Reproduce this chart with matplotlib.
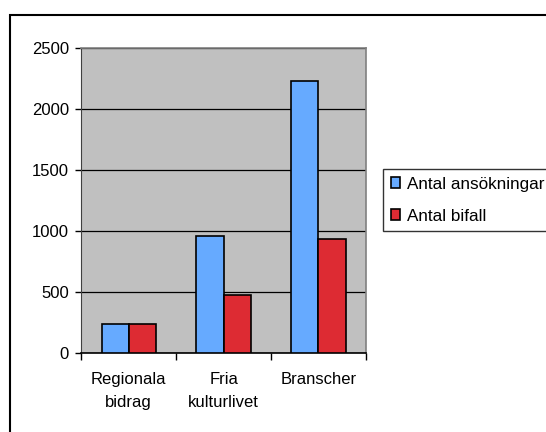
import matplotlib.pyplot as plt
import numpy as np
from matplotlib.patches import Rectangle

# Data
kategorier = ['Regionala\nbidrag', 'Fria\nkulturlivet', 'Branscher']
ansokningar = [240, 960, 2230]
bifall = [240, 478, 932]
serier = ['Antal ansökningar', 'Antal bifall']

plt.rcParams['font.family'] = ['Liberation Sans', 'DejaVu Sans']

fig = plt.figure(figsize=(5.46, 4.32), dpi=100)
ax = fig.add_axes([0.149, 0.183, 0.521, 0.706])

x = np.arange(len(kategorier))
bredd = 1 / 3.5
ax.bar(x - bredd / 2, ansokningar, bredd, color='#66aaff', edgecolor='black', linewidth=1.2, zorder=3, label=serier[0])
ax.bar(x + bredd / 2, bifall, bredd, color='#dd2b33', edgecolor='black', linewidth=1.2, zorder=3, label=serier[1])

ax.set_facecolor('#c0c0c0')
ax.set_xlim(-0.5, len(kategorier) - 0.5)
ax.set_ylim(0, 2500)
ax.set_yticks([0, 500, 1000, 1500, 2000, 2500])
ax.yaxis.grid(True, color='black', linewidth=0.9, zorder=1)

# tick marks between categories, labels at centres
ax.set_xticks(np.arange(len(kategorier) + 1) - 0.5)
ax.set_xticklabels([])
ax.set_xticks(x, minor=True)
ax.set_xticklabels(kategorier, minor=True, linespacing=1.6)
ax.tick_params(axis='x', which='minor', length=0, pad=14, labelsize=12)
ax.tick_params(axis='x', which='major', length=5, width=1)
ax.tick_params(axis='y', length=4, width=1, labelsize=12, pad=5)

for s in ['top', 'right']:
    ax.spines[s].set_color('#808080')
    ax.spines[s].set_linewidth(1.2)
ax.spines['left'].set_color('#404040')
ax.spines['bottom'].set_color('black')
ax.spines['bottom'].set_linewidth(1.2)

# legend
leg = fig.legend(loc='upper left', bbox_to_anchor=(0.702, 0.609), fontsize=12.3,
                 frameon=True, fancybox=False, edgecolor='black', handlelength=0.55,
                 handleheight=0.55, handletextpad=0.4, borderpad=0.45, labelspacing=1.0,
                 borderaxespad=0)
leg.get_frame().set_linewidth(1.0)

# outer border
fig.patches.append(Rectangle((10 / 546, -0.02), 1.0, 1 - 15 / 432 + 0.02, transform=fig.transFigure,
                             fill=False, edgecolor='black', linewidth=1.5))

fig.savefig('out.png', dpi=100)
